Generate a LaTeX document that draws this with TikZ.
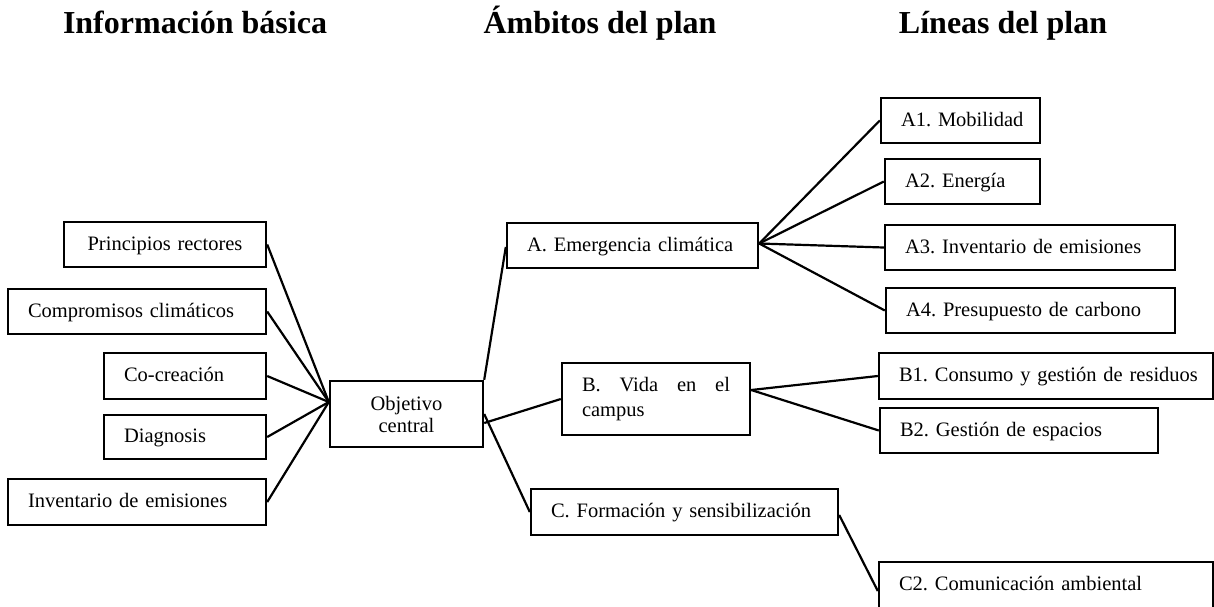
\documentclass[tikz,border=0pt]{standalone}
\usepackage{fontspec}
\setmainfont{Liberation Serif}
\frenchspacing
\begin{document}
\begin{tikzpicture}[x=1pt,y=-1pt,
  every node/.style={font=\fontsize{20.5}{23}\selectfont},
  box/.style={draw, line width=2.4pt, inner xsep=20pt, inner ysep=0pt, align=left,
    text width=#1, text height=15pt, text depth=4pt, minimum height=45pt},
  mbox/.style={draw, line width=2.4pt, inner xsep=20pt, inner ysep=0pt, text width=#1},
  hdr/.style={font=\fontsize{32}{36}\selectfont\bfseries, anchor=base},
  link/.style={line width=2.2pt}]
\useasboundingbox (0,0) rectangle (1214,606);
% headings
\node[hdr] (h1) at (195,33) {Información básica};
\node[hdr] (h2) at (600,33) {Ámbitos del plan};
\node[hdr] (h3) at (1003,33) {Líneas del plan};
% basic information
\node[box=162pt, align=center] (prin) at (165,244.5) {\mbox{Principios rectores}};
\node[box=218pt] (comp) at (137,311.5) {\mbox{Compromisos climáticos}};
\node[box=122pt, minimum height=46pt] (cocr) at (185,376) {\mbox{Co-creación}};
\node[box=122pt, minimum height=44pt] (diag) at (185,437) {\mbox{Diagnosis}};
\node[box=218pt, minimum height=46pt] (inve) at (137,502) {\mbox{Inventario de emisiones}};
\node[mbox=113pt, minimum height=66pt, align=center, font=\fontsize{20.5}{22}\selectfont] (obj) at (406.5,414) {Objetivo\\central};
% ambits
\node[box=211pt] (A) at (632.5,245.5) {\mbox{A. Emergencia climática}};
\node[mbox=148pt, minimum height=72pt, align=left, font=\fontsize{20.5}{25}\selectfont] (B) at (656,399) {B.\hfill Vida\hfill en\hfill el\\campus};
\node[box=267pt, minimum height=46pt] (C) at (684.5,512) {\mbox{C. Formación y sensibilización}};
% lines
\node[box=119pt] (A1) at (960.5,120.5) {\mbox{A1. Mobilidad}};
\node[box=115pt] (A2) at (962.5,181.5) {\mbox{A2. Energía}};
\node[box=250pt] (A3) at (1030,247.5) {\mbox{A3. Inventario de emisiones}};
\node[box=249pt] (A4) at (1030.5,310.5) {\mbox{A4. Presupuesto de carbono}};
\node[box=294pt, minimum height=46pt] (B1) at (1046,376) {\mbox{B1. Consumo y gestión de residuos}};
\node[box=238pt] (B2) at (1019,430.5) {\mbox{B2. Gestión de espacios}};
\node[box=294pt, minimum height=52pt, text depth=11pt] (C2) at (1046,588) {\mbox{C2. Comunicación ambiental}};
% connectors
\coordinate (objin) at ([yshift=12pt]obj.west);
\foreach \n in {prin,comp,cocr,diag,inve} \draw[link] (\n.east) -- (objin);
\draw[link] (obj.north east) -- ([yshift=-1.5pt]A.west);
\draw[link] ([yshift=-9pt]obj.east) -- (B.west);
\draw[link] (obj.east) -- (C.west);
\coordinate (Aout) at ([yshift=2pt]A.east);
\foreach \n in {A1,A2,A3,A4} \draw[link] (Aout) -- (\n.west);
\coordinate (Bout) at ([yshift=9pt]B.east);
\foreach \n in {B1,B2} \draw[link] (Bout) -- (\n.west);
\draw[link] ([yshift=-3pt]C.east) -- ([yshift=-3pt]C2.west);
\end{tikzpicture}
\end{document}
